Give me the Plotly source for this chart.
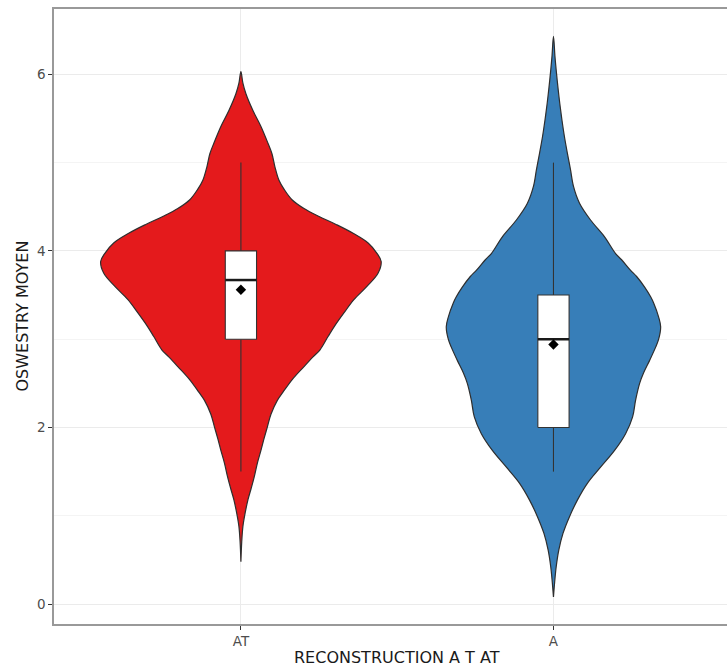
import numpy as np
import plotly.graph_objects as go

# ---- data ----
categories = ["AT", "A"]
positions = [1, 2]
colors = ["#E41A1C", "#377EB8"]

# violin outline: y levels and half-widths (pixels at 312 px per x unit)
at_y = [6.03, 5.90, 5.78, 5.59, 5.41, 5.22, 5.10, 4.95, 4.80, 4.70, 4.58, 4.48, 4.39, 4.30,
        4.20, 4.09, 3.97, 3.88, 3.75, 3.60, 3.45, 3.30, 3.14, 3.03, 2.88, 2.80, 2.69, 2.54,
        2.40, 2.31, 2.15, 2.01, 1.87, 1.74, 1.60, 1.44, 1.30, 1.18, 1.03, 0.88, 0.70, 0.48]
at_hw_px = [0, 2, 5, 12, 20, 27, 31, 34, 38, 43, 51, 63, 78, 95,
            112, 127, 136, 140, 137, 126, 113, 103, 93, 87, 79, 72, 63, 51,
            42, 36.5, 30, 26.5, 23, 20, 16.5, 13.3, 10, 7, 4.2, 2, 0.8, 0]
a_y = [6.43, 6.20, 6.05, 5.85, 5.67, 5.48, 5.29, 5.10, 4.92, 4.73, 4.54, 4.35, 4.16, 3.97,
       3.90, 3.78, 3.71, 3.59, 3.48, 3.41, 3.25, 3.14, 3.00, 2.91, 2.76, 2.62, 2.50, 2.31,
       2.12, 1.93, 1.74, 1.55, 1.37, 1.18, 0.99, 0.80, 0.61, 0.42, 0.25, 0.08]
a_hw_px = [0, 1.5, 2.7, 4.5, 6.3, 8.5, 11, 14, 17, 20, 26, 37, 51, 62,
           68, 77, 83, 91, 97, 100, 105, 107, 105, 102, 96, 90, 86, 82,
           79, 72, 61, 47, 34, 24, 16, 9.5, 5.3, 2.7, 1.2, 0]
PX_PER_UNIT = 312.0
violin_y = [at_y, a_y]
violin_hw = [[v / PX_PER_UNIT for v in at_hw_px], [v / PX_PER_UNIT for v in a_hw_px]]

# box statistics
q1 = [3.0, 2.0]
median = [3.67, 3.0]
q3 = [4.0, 3.5]
lower = [1.5, 1.5]
upper = [5.0, 5.0]
means = [3.56, 2.94]

y_ticks = [0, 2, 4, 6]
x_title = "RECONSTRUCTION A T AT"
y_title = "OSWESTRY MOYEN"

fig = go.Figure()

# violins
for pos, col, ys, hws in zip(positions, colors, violin_y, violin_hw):
    ys = np.array(ys)
    hws = np.array(hws)
    xs = np.concatenate([pos + hws, (pos - hws)[::-1]])
    yy = np.concatenate([ys, ys[::-1]])
    fig.add_trace(go.Scatter(x=xs, y=yy, mode="lines", fill="toself", fillcolor=col,
                             line=dict(color="#2e2e2e", width=1.2, shape="spline", smoothing=1.0),
                             hoverinfo="skip", showlegend=False))

# boxplots (drawn as scatter so they sit above the violins)
BOX_W = 0.1
for pos, a, m, b, lo, hi in zip(positions, q1, median, q3, lower, upper):
    fig.add_trace(go.Scatter(x=[pos, pos, None, pos, pos], y=[lo, a, None, b, hi], mode="lines",
                             line=dict(color="#333333", width=1.1), showlegend=False, hoverinfo="skip"))
    fig.add_trace(go.Scatter(x=[pos - BOX_W / 2, pos + BOX_W / 2, pos + BOX_W / 2, pos - BOX_W / 2, pos - BOX_W / 2],
                             y=[a, a, b, b, a], mode="lines", fill="toself", fillcolor="white",
                             line=dict(color="#333333", width=1.1), showlegend=False, hoverinfo="skip"))
    fig.add_trace(go.Scatter(x=[pos - BOX_W / 2, pos + BOX_W / 2], y=[m, m], mode="lines",
                             line=dict(color="#1a1a1a", width=2.5), showlegend=False, hoverinfo="skip"))

fig.add_trace(go.Scatter(x=positions, y=means, mode="markers",
                         marker=dict(symbol="diamond", size=8, color="black"),
                         showlegend=False, hoverinfo="skip"))

# the reference panel is cut at the right edge of the picture: the figure is a bit wider
# than the window and the overflow is hidden
fig.update_layout(
    width=741, height=668,
    margin=dict(l=54, r=0, t=9, b=44),
    paper_bgcolor="white", plot_bgcolor="white",
    font=dict(family="DejaVu Sans", color="#4d4d4d"),
    xaxis=dict(range=[0.402, 2.6], tickvals=positions, ticktext=categories, automargin=False,
               showgrid=True, gridcolor="#ebebeb", gridwidth=1, zeroline=False,
               showline=True, linecolor="#999999", linewidth=1.5, mirror=True,
               ticks="outside", ticklen=4, tickcolor="#333333",
               tickfont=dict(size=13.5, color="#4d4d4d")),
    yaxis=dict(range=[-0.226, 6.74], tickvals=y_ticks, automargin=False,
               showgrid=True, gridcolor="#ebebeb", gridwidth=1, zeroline=False,
               minor=dict(dtick=1, showgrid=True, gridcolor="#f4f4f4", gridwidth=1),
               showline=True, linecolor="#999999", linewidth=1.5, mirror=False,
               ticks="outside", ticklen=4, tickcolor="#333333",
               tickfont=dict(size=13.5, color="#4d4d4d")),
    annotations=[
        dict(text=x_title, xref="x", x=1.5, yref="paper", y=0, yshift=-33,
             xanchor="center", yanchor="middle", showarrow=False,
             font=dict(size=16, color="#1a1a1a")),
        dict(text=y_title, xref="paper", x=0, xshift=-32, yref="paper", y=0.5,
             xanchor="center", yanchor="middle", textangle=-90, showarrow=False,
             font=dict(size=16, color="#1a1a1a")),
    ],
)

fig.write_html("out.html", config={"displayModeBar": False},
               post_script="document.body.style.margin='0';document.body.style.overflow='hidden';")
